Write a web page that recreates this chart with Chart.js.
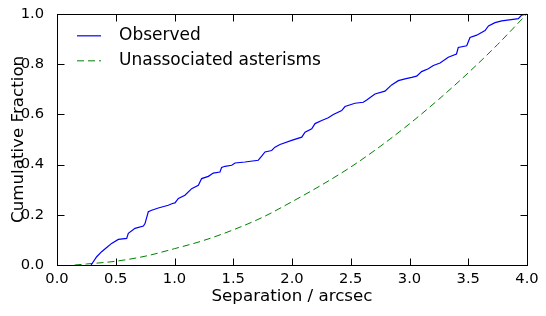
<!DOCTYPE html>
<html>
<head>
<meta charset="utf-8">
<script src="https://cdn.jsdelivr.net/npm/chart.js@4/dist/chart.umd.min.js"></script>
<style>
  html, body { margin: 0; padding: 0; background: #fff; }
  #wrap { width: 546px; height: 316px; position: relative; }
</style>
</head>
<body>
<div id="wrap"><canvas id="cdf"></canvas></div>
<script>
// observed cumulative distribution
const obsSep = [0.29, 0.338, 0.38, 0.423, 0.465, 0.522, 0.593, 0.607, 0.664, 0.735, 0.749, 0.777, 0.806, 0.862, 0.947, 0.982, 1.004, 1.033, 1.089, 1.146, 1.203, 1.231, 1.288, 1.33, 1.387, 1.401, 1.43, 1.487, 1.515, 1.6, 1.713, 1.742, 1.77, 1.827, 1.855, 1.898, 1.997, 2.083, 2.111, 2.168, 2.196, 2.253, 2.309, 2.352, 2.423, 2.451, 2.536, 2.607, 2.636, 2.706, 2.791, 2.848, 2.905, 2.962, 3.019, 3.061, 3.103, 3.16, 3.203, 3.26, 3.33, 3.4, 3.415, 3.487, 3.515, 3.572, 3.643, 3.672, 3.728, 3.785, 3.898, 3.926, 3.955, 4.0];
const obsFrac = [0, 0.033, 0.053, 0.07, 0.086, 0.102, 0.106, 0.126, 0.146, 0.155, 0.165, 0.212, 0.218, 0.227, 0.238, 0.245, 0.247, 0.265, 0.278, 0.304, 0.317, 0.344, 0.353, 0.366, 0.37, 0.388, 0.393, 0.397, 0.406, 0.41, 0.417, 0.433, 0.45, 0.456, 0.469, 0.48, 0.496, 0.509, 0.529, 0.542, 0.563, 0.575, 0.586, 0.599, 0.615, 0.631, 0.644, 0.648, 0.657, 0.681, 0.692, 0.717, 0.734, 0.741, 0.747, 0.752, 0.77, 0.781, 0.794, 0.804, 0.827, 0.84, 0.866, 0.873, 0.906, 0.915, 0.933, 0.952, 0.965, 0.972, 0.979, 0.981, 0.995, 1.0];

// unassociated asterisms curve
const astSep = [0.15, 0.25, 0.5, 0.75, 1.0, 1.25, 1.5, 1.75, 2.0, 2.25, 2.5, 2.75, 3.0, 3.25, 3.5, 3.75, 4.0];
const astFrac = [0, 0.004, 0.015, 0.035, 0.065, 0.098, 0.14, 0.19, 0.252, 0.318, 0.39, 0.472, 0.562, 0.66, 0.765, 0.878, 1.0];

const seriesNames = ['Observed', 'Unassociated asterisms'];
const xTicks = [0, 0.5, 1, 1.5, 2, 2.5, 3, 3.5, 4];
const yTicks = [0, 0.2, 0.4, 0.6, 0.8, 1.0];

const FONT = 'DejaVu Sans';

function pts(xs, ys) { return xs.map((x, i) => ({ x: x, y: ys[i] })); }

// box around the plot + inward ticks on all four sides
const frameTicks = {
  id: 'frameTicks',
  afterDatasetsDraw(chart) {
    const { ctx, chartArea: a, scales } = chart;
    const L = Math.round(a.left) + 0.5, R = Math.round(a.right) + 0.5;
    const T = Math.round(a.top) + 0.5, B = Math.round(a.bottom) + 0.5;
    const len = 7;
    ctx.save();
    ctx.strokeStyle = '#000';
    ctx.lineWidth = 1;
    ctx.beginPath();
    xTicks.forEach(v => {
      const px = Math.round(scales.x.getPixelForValue(v)) + 0.5;
      ctx.moveTo(px, B); ctx.lineTo(px, B - len);
      ctx.moveTo(px, T); ctx.lineTo(px, T + len);
    });
    yTicks.forEach(v => {
      const py = Math.round(scales.y.getPixelForValue(v)) + 0.5;
      ctx.moveTo(L, py); ctx.lineTo(L + len, py);
      ctx.moveTo(R, py); ctx.lineTo(R - len, py);
    });
    ctx.stroke();
    ctx.strokeRect(L, T, R - L, B - T);
    ctx.restore();
  }
};

// legend drawn inside the plot, upper left
const innerLegend = {
  id: 'innerLegend',
  afterDraw(chart) {
    const { ctx, chartArea: a } = chart;
    ctx.save();
    ctx.font = '17px "' + FONT + '"';
    ctx.textBaseline = 'middle';
    ctx.fillStyle = '#000';
    chart.data.datasets.forEach((ds, i) => {
      const y = a.top + 22 + i * 25;
      ctx.strokeStyle = ds.borderColor;
      ctx.lineWidth = ds.borderWidth;
      ctx.setLineDash(ds.borderDash || []);
      ctx.beginPath();
      ctx.moveTo(a.left + 20, y); ctx.lineTo(a.left + 44, y);
      ctx.stroke();
      ctx.setLineDash([]);
      ctx.fillText(ds.label, a.left + 62, y);
    });
    ctx.restore();
  }
};

new Chart(document.getElementById('cdf'), {
  type: 'line',
  data: {
    datasets: [
      {
        label: seriesNames[0],
        data: pts(obsSep, obsFrac),
        borderColor: '#0000ff',
        borderWidth: 1.2,
        pointRadius: 0,
        tension: 0
      },
      {
        label: seriesNames[1],
        data: pts(astSep, astFrac),
        borderColor: '#008000',
        borderWidth: 1,
        borderDash: [7, 4],
        pointRadius: 0,
        cubicInterpolationMode: 'monotone'
      }
    ]
  },
  options: {
    responsive: true,
    maintainAspectRatio: false,
    animation: false,
    layout: { padding: { top: 13, right: 19, left: 0, bottom: 0 } },
    plugins: { legend: { display: false }, tooltip: { enabled: false } },
    scales: {
      x: {
        type: 'linear', min: 0, max: 4,
        afterBuildTicks: s => { s.ticks = xTicks.map(v => ({ value: v })); },
        afterFit: s => { s.height = 51; },
        grid: { display: false },
        border: { display: false },
        ticks: {
          color: '#000', padding: -3, maxRotation: 0,
          font: { family: FONT, size: 14.7 },
          callback: v => v.toFixed(1)
        },
        title: {
          display: true, text: 'Separation / arcsec', color: '#000',
          font: { family: FONT, size: 16.7 }, padding: { top: 0, bottom: 9 }
        }
      },
      y: {
        min: 0, max: 1,
        afterBuildTicks: s => { s.ticks = yTicks.map(v => ({ value: v })); },
        afterFit: s => { s.width = 57; },
        grid: { display: false },
        border: { display: false },
        ticks: {
          color: '#000', padding: 5,
          font: { family: FONT, size: 14.7 },
          callback: v => v.toFixed(1)
        },
        title: {
          display: true, text: 'Cumulative Fraction', color: '#000',
          font: { family: FONT, size: 16.7 }, padding: { top: 9, bottom: 0 }
        }
      }
    }
  },
  plugins: [frameTicks, innerLegend]
});
</script>
</body>
</html>
